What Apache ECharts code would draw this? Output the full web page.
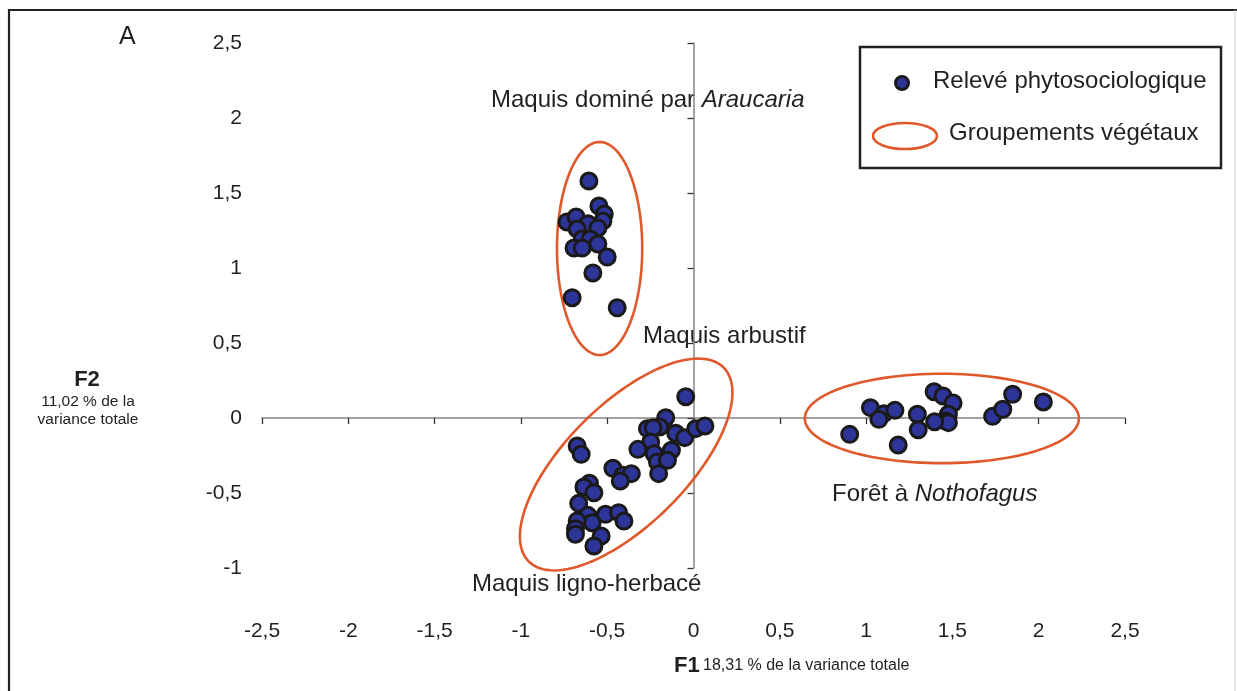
<!DOCTYPE html>
<html>
<head>
<meta charset="utf-8">
<script src="https://cdn.jsdelivr.net/npm/echarts@6/dist/echarts.min.js"></script>
<style>
html,body{margin:0;padding:0;background:#fff;}
#chart{width:1237px;height:691px;}
</style>
</head>
<body>
<div id="chart"></div>
<script>
// ---- DATA ----
const xTicks = [-2.5, -2, -1.5, -1, -0.5, 0, 0.5, 1, 1.5, 2, 2.5];
const yTicks = [-1, -0.5, 0, 0.5, 1, 1.5, 2, 2.5];

// Relevés: [F1, F2]
const releveAraucaria = [
  [-0.606, 1.58], [-0.548, 1.413], [-0.517, 1.36], [-0.525, 1.313], [-0.733, 1.307],
  [-0.680, 1.34], [-0.612, 1.295], [-0.554, 1.267], [-0.674, 1.26], [-0.645, 1.193],
  [-0.599, 1.193], [-0.692, 1.133], [-0.645, 1.133], [-0.554, 1.16], [-0.500, 1.073],
  [-0.583, 0.967], [-0.703, 0.802], [-0.442, 0.735]
];
const releveMaquis = [
  [-0.045, 0.142], [-0.161, 0.002], [-0.196, -0.06], [-0.267, -0.071], [-0.234, -0.065],
  [-0.103, -0.102], [-0.051, -0.131], [0.013, -0.071], [0.066, -0.053], [-0.248, -0.16],
  [-0.322, -0.209], [-0.128, -0.215], [-0.228, -0.238], [-0.209, -0.293], [-0.151, -0.282],
  [-0.202, -0.371], [-0.674, -0.187], [-0.651, -0.242], [-0.467, -0.335], [-0.409, -0.382],
  [-0.360, -0.371], [-0.424, -0.42], [-0.603, -0.435], [-0.635, -0.46], [-0.577, -0.498],
  [-0.665, -0.569], [-0.510, -0.642], [-0.434, -0.631], [-0.403, -0.687], [-0.612, -0.649],
  [-0.587, -0.698], [-0.674, -0.687], [-0.684, -0.738], [-0.684, -0.775], [-0.535, -0.787],
  [-0.577, -0.853]
];
const releveNothofagus = [
  [0.905, -0.109], [1.025, 0.069], [1.103, 0.029], [1.074, -0.009], [1.167, 0.051],
  [1.186, -0.18], [1.297, 0.025], [1.302, -0.078], [1.394, 0.175], [1.446, 0.147],
  [1.504, 0.1], [1.477, 0.025], [1.461, -0.02], [1.477, -0.031], [1.397, -0.025],
  [1.733, 0.011], [1.792, 0.058], [1.849, 0.158], [2.027, 0.107]
];

// Groupements végétaux: [centerF1, centerF2, axis1F1, axis1F2, axis2F1, axis2F2]
const groupEllipses = [
  [-0.544, 1.13, 0.0, 0.71, 0.247, 0.0],
  [-0.39, -0.31, 0.564, 0.647, 0.247, -0.283],
  [1.439, -0.003, 0.794, 0.0, 0.0, 0.298]
];

const seriesNames = ['Relevé phytosociologique', 'Groupements végétaux'];

// ---- CHART ----
const FONT = '"Liberation Sans", Arial, sans-serif';
const TXT = '#231f20';
const BLUE = '#2e3599';
const ORANGE = '#e0592c';
const fmt = v => String(v).replace('.', ',');

const chart = echarts.init(document.getElementById('chart'), null, {renderer: 'canvas'});

const allReleves = releveAraucaria.concat(releveMaquis, releveNothofagus);

const option = {
  backgroundColor: '#fff',
  animation: false,
  textStyle: {fontFamily: FONT},
  grid: {left: 262, right: 112, top: 43, bottom: 123, containLabel: false},
  xAxis: [
    {
      type: 'value', min: xTicks[0], max: xTicks[xTicks.length - 1], interval: 0.5,
      axisLine: {show: true, onZero: true, onZeroAxisIndex: 0, lineStyle: {color: '#858585', width: 1.5}},
      axisTick: {show: true, inside: false, length: 6, lineStyle: {color: '#333', width: 1.3}},
      axisLabel: {show: false},
      splitLine: {show: false}
    },
    {
      type: 'value', position: 'bottom', min: xTicks[0], max: xTicks[xTicks.length - 1], interval: 0.5,
      axisLine: {show: false, onZero: false},
      axisTick: {show: false},
      axisLabel: {show: true, margin: 53, fontSize: 21, color: TXT, fontFamily: FONT, formatter: fmt,
        showMinLabel: true, showMaxLabel: true},
      splitLine: {show: false}
    }
  ],
  yAxis: [
    {
      type: 'value', min: yTicks[0], max: yTicks[yTicks.length - 1], interval: 0.5,
      axisLine: {show: true, onZero: true, onZeroAxisIndex: 0, lineStyle: {color: '#858585', width: 1.5}},
      axisTick: {show: true, inside: false, length: 6, lineStyle: {color: '#333', width: 1.3}},
      axisLabel: {show: false},
      splitLine: {show: false}
    },
    {
      type: 'value', position: 'left', min: yTicks[0], max: yTicks[yTicks.length - 1], interval: 0.5,
      axisLine: {show: false, onZero: false},
      axisTick: {show: false},
      axisLabel: {show: true, margin: 20, fontSize: 21, color: TXT, fontFamily: FONT, formatter: fmt,
        showMinLabel: true, showMaxLabel: true},
      splitLine: {show: false}
    }
  ],
  series: [
    {
      name: seriesNames[1],
      type: 'custom',
      coordinateSystem: 'cartesian2d',
      xAxisIndex: 0, yAxisIndex: 0,
      clip: false,
      z: 2,
      silent: true,
      data: groupEllipses,
      encode: {x: 0, y: 1},
      renderItem: function (params, api) {
        const cx = api.value(0), cy = api.value(1);
        const ux = api.value(2), uy = api.value(3);
        const vx = api.value(4), vy = api.value(5);
        const pts = [];
        const N = 120;
        for (let i = 0; i < N; i++) {
          const t = i / N * Math.PI * 2;
          pts.push(api.coord([cx + ux * Math.cos(t) + vx * Math.sin(t),
                              cy + uy * Math.cos(t) + vy * Math.sin(t)]));
        }
        return {
          type: 'polygon',
          shape: {points: pts, smooth: 0},
          style: {fill: 'none', stroke: ORANGE, lineWidth: 2.6}
        };
      }
    },
    {
      name: seriesNames[0],
      type: 'scatter',
      xAxisIndex: 0, yAxisIndex: 0,
      z: 3,
      symbol: 'circle',
      symbolSize: 16,
      itemStyle: {color: BLUE, borderColor: '#1a1a1a', borderWidth: 3, opacity: 1},
      data: allReleves
    }
  ],
  graphic: [
    // frame
    {type: 'line', shape: {x1: 9, y1: 10, x2: 1237, y2: 10}, style: {stroke: '#222', lineWidth: 2.2}, silent: true},
    {type: 'line', shape: {x1: 9, y1: 9, x2: 9, y2: 691}, style: {stroke: '#222', lineWidth: 2.2}, silent: true},
    {type: 'line', shape: {x1: 1235, y1: 10, x2: 1235, y2: 691}, style: {stroke: '#d0d0d0', lineWidth: 1}, silent: true},
    // panel letter
    {type: 'text', left: 119, top: 25, style: {text: 'A', font: '25px ' + FONT, fill: TXT}, silent: true},
    // Y axis title
    {type: 'text', x: 87, y: 380, style: {text: 'F2', font: 'bold 22px ' + FONT, fill: TXT, align: 'center', verticalAlign: 'middle'}, silent: true},
    {type: 'text', x: 88, y: 402, style: {text: '11,02 % de la', font: '15.5px ' + FONT, fill: TXT, align: 'center', verticalAlign: 'middle'}, silent: true},
    {type: 'text', x: 88, y: 420, style: {text: 'variance totale', font: '15.5px ' + FONT, fill: TXT, align: 'center', verticalAlign: 'middle'}, silent: true},
    // X axis title
    {type: 'text', x: 674, y: 666, style: {text: '{b|F1} {n|18,31 % de la variance totale}', fill: TXT, align: 'left', verticalAlign: 'middle',
      rich: {b: {font: 'bold 22px ' + FONT, fill: TXT}, n: {font: '16px ' + FONT, fill: TXT}}}, silent: true},
    // group labels
    {type: 'text', x: 491, y: 100, style: {text: '{n|Maquis dominé par }{i|Araucaria}', align: 'left', verticalAlign: 'middle',
      rich: {n: {font: '24px ' + FONT, fill: TXT}, i: {font: 'italic 24px ' + FONT, fill: TXT}}}, silent: true},
    {type: 'text', x: 643, y: 336, style: {text: 'Maquis arbustif', font: '24px ' + FONT, fill: TXT, align: 'left', verticalAlign: 'middle'}, silent: true},
    {type: 'text', x: 832, y: 494, style: {text: '{n|Forêt à }{i|Nothofagus}', align: 'left', verticalAlign: 'middle',
      rich: {n: {font: '24px ' + FONT, fill: TXT}, i: {font: 'italic 24px ' + FONT, fill: TXT}}}, silent: true},
    {type: 'text', x: 472, y: 584, style: {text: 'Maquis ligno-herbacé', font: '24px ' + FONT, fill: TXT, align: 'left', verticalAlign: 'middle'}, silent: true},
    // legend box
    {type: 'rect', shape: {x: 860, y: 47, width: 361, height: 121}, style: {fill: '#fff', stroke: '#222', lineWidth: 2.5}, z: 10, silent: true},
    {type: 'circle', shape: {cx: 902, cy: 83, r: 6.5}, style: {fill: BLUE, stroke: '#1a1a1a', lineWidth: 3}, z: 11, silent: true},
    {type: 'text', x: 933, y: 81, style: {text: seriesNames[0], font: '24px ' + FONT, fill: TXT, align: 'left', verticalAlign: 'middle'}, z: 11, silent: true},
    {type: 'ellipse', shape: {cx: 905, cy: 136, rx: 32, ry: 13}, style: {fill: 'none', stroke: ORANGE, lineWidth: 2.6}, z: 11, silent: true},
    {type: 'text', x: 949, y: 133, style: {text: seriesNames[1], font: '24px ' + FONT, fill: TXT, align: 'left', verticalAlign: 'middle'}, z: 11, silent: true}
  ]
};

chart.setOption(option);
</script>
</body>
</html>
